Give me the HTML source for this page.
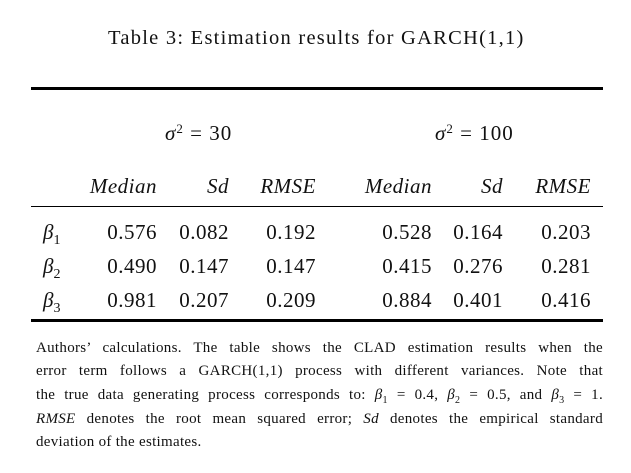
<!DOCTYPE html>
<html><head><meta charset="utf-8"><style>
body{margin:0;width:631px;height:473px;background:#fff;position:relative;font-family:"Liberation Serif",serif;color:#111;overflow:hidden}
.a{position:absolute;white-space:nowrap;line-height:1}
.r{position:absolute;white-space:nowrap;line-height:1;text-align:right;letter-spacing:0.5px}
.t{font-size:21px}
i{font-style:italic}
.rule{position:absolute;left:31px;width:572px;background:#000}
.cl{position:absolute;left:36px;width:567px;font-size:15px;line-height:1;text-align:justify;text-align-last:justify;white-space:nowrap;letter-spacing:0.3px}
</style></head><body>
<div class="a" style="left:108px;top:28px;font-size:20.5px;letter-spacing:1.25px">Table 3: Estimation results for GARCH(1,1)</div>
<div class="rule" style="top:87px;height:3px"></div>
<div class="a t" style="left:165px;top:122px;letter-spacing:1px"><i>σ</i><sup style="font-size:13px;vertical-align:7px">2</sup> = 30</div>
<div class="a t" style="left:435px;top:122px;letter-spacing:1px"><i>σ</i><sup style="font-size:13px;vertical-align:7px">2</sup> = 100</div>
<div class="r t" style="right:474px;top:176px"><i>Median</i></div>
<div class="r t" style="right:402px;top:176px"><i>Sd</i></div>
<div class="r t" style="right:315px;top:176px"><i>RMSE</i></div>
<div class="r t" style="right:199px;top:176px"><i>Median</i></div>
<div class="r t" style="right:128px;top:176px"><i>Sd</i></div>
<div class="r t" style="right:40px;top:176px"><i>RMSE</i></div>
<div class="rule" style="top:206px;height:1px"></div>
<div class="a t" style="left:43px;top:222px"><i>β</i><sub style="font-size:14px">1</sub></div>
<div class="a t" style="left:43px;top:256px"><i>β</i><sub style="font-size:14px">2</sub></div>
<div class="a t" style="left:43px;top:290px"><i>β</i><sub style="font-size:14px">3</sub></div>
<div class="r t" style="right:474px;top:222px">0.576</div><div class="r t" style="right:402px;top:222px">0.082</div><div class="r t" style="right:315px;top:222px">0.192</div><div class="r t" style="right:199px;top:222px">0.528</div><div class="r t" style="right:128px;top:222px">0.164</div><div class="r t" style="right:40px;top:222px">0.203</div>
<div class="r t" style="right:474px;top:256px">0.490</div><div class="r t" style="right:402px;top:256px">0.147</div><div class="r t" style="right:315px;top:256px">0.147</div><div class="r t" style="right:199px;top:256px">0.415</div><div class="r t" style="right:128px;top:256px">0.276</div><div class="r t" style="right:40px;top:256px">0.281</div>
<div class="r t" style="right:474px;top:290px">0.981</div><div class="r t" style="right:402px;top:290px">0.207</div><div class="r t" style="right:315px;top:290px">0.209</div><div class="r t" style="right:199px;top:290px">0.884</div><div class="r t" style="right:128px;top:290px">0.401</div><div class="r t" style="right:40px;top:290px">0.416</div>
<div class="rule" style="top:319px;height:3px"></div>
<div class="cl" style="top:341px">Authors’ calculations. The table shows the CLAD estimation results when the</div>
<div class="cl" style="top:364px">error term follows a GARCH(1,1) process with different variances. Note that</div>
<div class="cl" style="top:388px">the true data generating process corresponds to: <i>β</i><sub style="font-size:10px">1</sub> = 0.4, <i>β</i><sub style="font-size:10px">2</sub> = 0.5, and <i>β</i><sub style="font-size:10px">3</sub> = 1.</div>
<div class="cl" style="top:412px"><i>RMSE</i> denotes the root mean squared error; <i>Sd</i> denotes the empirical standard</div>
<div class="cl" style="top:435px;text-align-last:left">deviation of the estimates.</div>
</body></html>
